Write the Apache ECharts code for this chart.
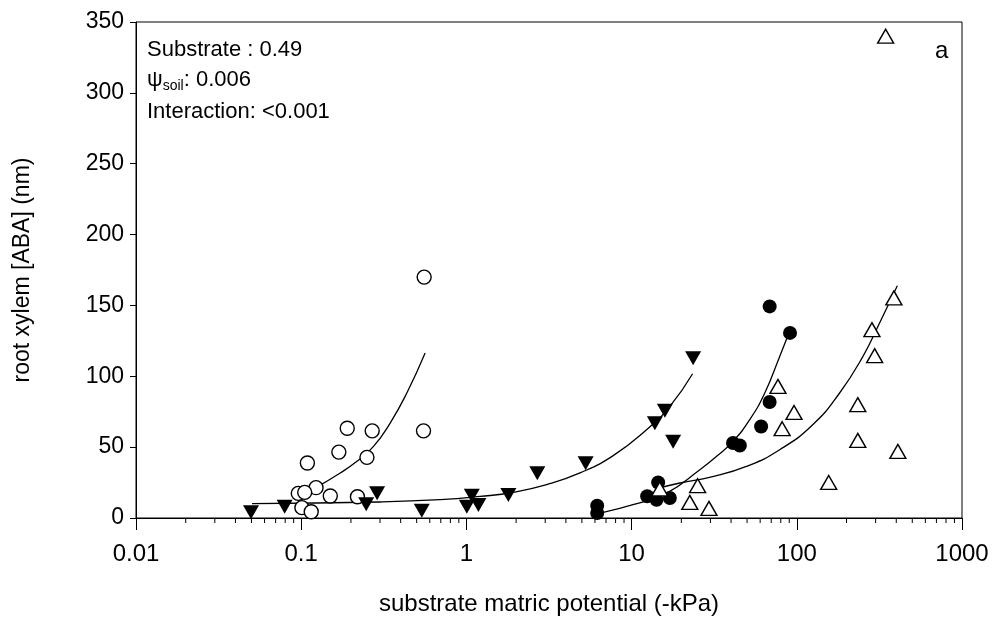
<!DOCTYPE html>
<html>
<head>
<meta charset="utf-8">
<script src="https://cdn.jsdelivr.net/npm/echarts@6/dist/echarts.min.js"></script>
<style>
  html, body { margin: 0; padding: 0; background: #fff; }
  #chart { width: 998px; height: 634px; }
</style>
</head>
<body>
<div id="chart"></div>
<script>
// open circles
var openCircleX = [0.555, 0.550, 0.190, 0.269, 0.169, 0.250, 0.109, 0.123, 0.096, 0.105, 0.150, 0.219, 0.101, 0.115];
var openCircleY = [170, 61.5, 63.3, 61.5, 46.5, 42.8, 38.8, 21.4, 17.4, 18.1, 15.5, 15.0, 7.3, 4.4];
// filled triangles (down)
var filledTriX = [0.0497, 0.0794, 0.288, 0.2475, 0.537, 1.078, 1.006, 1.182, 1.795, 2.687, 5.27, 13.83, 15.90, 17.84, 23.57];
var filledTriY = [4.0, 8.0, 17.4, 9.7, 5.2, 15.7, 8.0, 9.2, 16.2, 31.5, 38.6, 66.8, 75.7, 53.8, 112.7];
// filled circles
var filledCircleX = [6.19, 6.19, 14.48, 12.43, 14.16, 17.04, 41.1, 45.2, 60.8, 68.5, 68.5, 91.0];
var filledCircleY = [8.7, 3.5, 25.0, 15.3, 12.9, 14.1, 52.9, 51.2, 64.6, 81.9, 149.3, 130.6];
// open triangles (up)
var openTriX = [387, 285, 296, 234, 234, 409, 156, 76.9, 96.2, 81.5, 25.1, 22.5, 29.4, 14.8, 345];
var openTriY = [155.3, 132.9, 114.6, 80.0, 54.8, 47.0, 25.1, 92.9, 74.5, 63.0, 22.8, 11.0, 6.8, 20.5, 340];

// fitted curves
var openCircleFitX = [0.0964, 0.1216, 0.1723, 0.2175, 0.274, 0.3456, 0.436, 0.5626];
var openCircleFitY = [15.2, 21.2, 31.8, 40.0, 50.5, 67.0, 88.2, 116.4];
var filledTriFitX = [0.0504, 0.30, 0.693, 1.21, 1.924, 3.06, 4.87, 7.74, 12.32, 17.04, 23.4];
var filledTriFitY = [10.1, 11.3, 12.9, 15.2, 18.1, 23.5, 31.8, 44.0, 62.3, 78.8, 101.8];
var filledCircleFitX = [6.73, 10.2, 16.3, 25.9, 32.7, 41.1, 51.9, 64.0, 78.8, 87.2];
var filledCircleFitY = [4.0, 9.4, 17.6, 34.1, 43.5, 54.1, 69.4, 88.2, 114, 127];
var openTriFitX = [14.8, 19.6, 30.5, 49.5, 78.8, 125.3, 181.6, 251, 317, 406];
var openTriFitY = [21.2, 24.7, 29.0, 36.4, 48.2, 66.0, 88.2, 113.9, 137.6, 163.9];

// log axis minor ticks
var decades = [0.01, 0.1, 1, 10, 100];
var minorSteps = [2, 3, 4, 5, 6, 7, 8, 9];

var FONT = '"Liberation Sans", Arial, sans-serif';

function pairs(xs, ys) {
    return xs.map(function (x, i) { return [x, ys[i]]; });
}

var minorTicks = [];
decades.forEach(function (d) {
    minorSteps.forEach(function (s) { minorTicks.push([d * s, 0]); });
});

function fitLine(xs, ys) {
    return {
        type: 'line',
        data: pairs(xs, ys),
        smooth: true,
        showSymbol: false,
        symbol: 'none',
        silent: true,
        z: 2,
        lineStyle: { color: '#000', width: 1.3 }
    };
}

var chart = echarts.init(document.getElementById('chart'), null, { renderer: 'canvas' });

var option = {
    animation: false,
    backgroundColor: '#fff',
    grid: {
        left: 136, right: 36, top: 22, bottom: 116,
        show: true, borderColor: '#000', borderWidth: 1, backgroundColor: 'transparent'
    },
    xAxis: {
        type: 'log',
        logBase: 10,
        min: 0.01,
        max: 1000,
        name: 'substrate matric potential (-kPa)',
        nameLocation: 'middle',
        nameGap: 74,
        nameTextStyle: { fontFamily: FONT, fontSize: 24, color: '#000' },
        axisLine: { onZero: false, lineStyle: { color: '#000', width: 1 } },
        axisTick: { inside: false, length: 12, lineStyle: { color: '#000' } },
        axisLabel: {
            margin: 24,
            fontFamily: FONT, fontSize: 24, color: '#000',
            formatter: function (v) {
                return v >= 1 ? String(Math.round(v)) : String(parseFloat(v.toPrecision(1)));
            }
        },
        splitLine: { show: false },
        minorTick: { show: false }
    },
    yAxis: {
        type: 'value',
        min: 0,
        max: 350,
        interval: 50,
        name: 'root xylem [ABA] (nm)',
        nameLocation: 'middle',
        nameGap: 102,
        nameTextStyle: { fontFamily: FONT, fontSize: 23, color: '#000' },
        axisLine: { show: true, lineStyle: { color: '#000', width: 1 } },
        axisTick: { show: true, length: 6, lineStyle: { color: '#000' } },
        axisLabel: { margin: 12, fontFamily: FONT, fontSize: 23, color: '#000' },
        splitLine: { show: false }
    },
    graphic: [
        {
            type: 'text', left: 147, top: 39,
            style: { text: 'Substrate : 0.49', font: '22px ' + FONT, fill: '#000' }
        },
        {
            type: 'text', left: 147, top: 69,
            style: {
                text: '{p|ψ}{s|soil}{p|: 0.006}',
                fill: '#000',
                rich: {
                    p: { fontSize: 22, fontFamily: FONT, lineHeight: 26 },
                    s: { fontSize: 14, fontFamily: FONT, lineHeight: 14, verticalAlign: 'bottom' }
                }
            }
        },
        {
            type: 'text', left: 147, top: 101,
            style: { text: 'Interaction: <0.001', font: '22px ' + FONT, fill: '#000' }
        },
        {
            type: 'text', left: 935, top: 39,
            style: { text: 'a', font: '24px ' + FONT, fill: '#000' }
        }
    ],
    series: [
        {
            type: 'custom',
            silent: true,
            clip: false,
            data: minorTicks,
            renderItem: function (params, api) {
                var p = api.coord([api.value(0), 0]);
                return {
                    type: 'line',
                    shape: { x1: p[0], y1: p[1], x2: p[0], y2: p[1] + 5 },
                    style: { stroke: '#000', lineWidth: 1 }
                };
            }
        },
        fitLine(openCircleFitX, openCircleFitY),
        fitLine(filledTriFitX, filledTriFitY),
        fitLine(filledCircleFitX, filledCircleFitY),
        fitLine(openTriFitX, openTriFitY),
        {
            type: 'scatter',
            data: pairs(openCircleX, openCircleY),
            symbol: 'circle',
            symbolSize: 14,
            z: 3,
            itemStyle: { color: '#fff', borderColor: '#000', borderWidth: 1.4, opacity: 1 }
        },
        {
            type: 'scatter',
            data: pairs(filledTriX, filledTriY),
            symbol: 'triangle',
            symbolRotate: 180,
            symbolSize: [16, 14],
            z: 3,
            itemStyle: { color: '#000', opacity: 1 }
        },
        {
            type: 'scatter',
            data: pairs(filledCircleX, filledCircleY),
            symbol: 'circle',
            symbolSize: 14,
            z: 3,
            itemStyle: { color: '#000', opacity: 1 }
        },
        {
            type: 'scatter',
            data: pairs(openTriX, openTriY),
            symbol: 'triangle',
            symbolSize: [16, 14],
            z: 4,
            itemStyle: { color: '#fff', borderColor: '#000', borderWidth: 1.4, opacity: 1 }
        }
    ]
};

chart.setOption(option);
</script>
</body>
</html>
